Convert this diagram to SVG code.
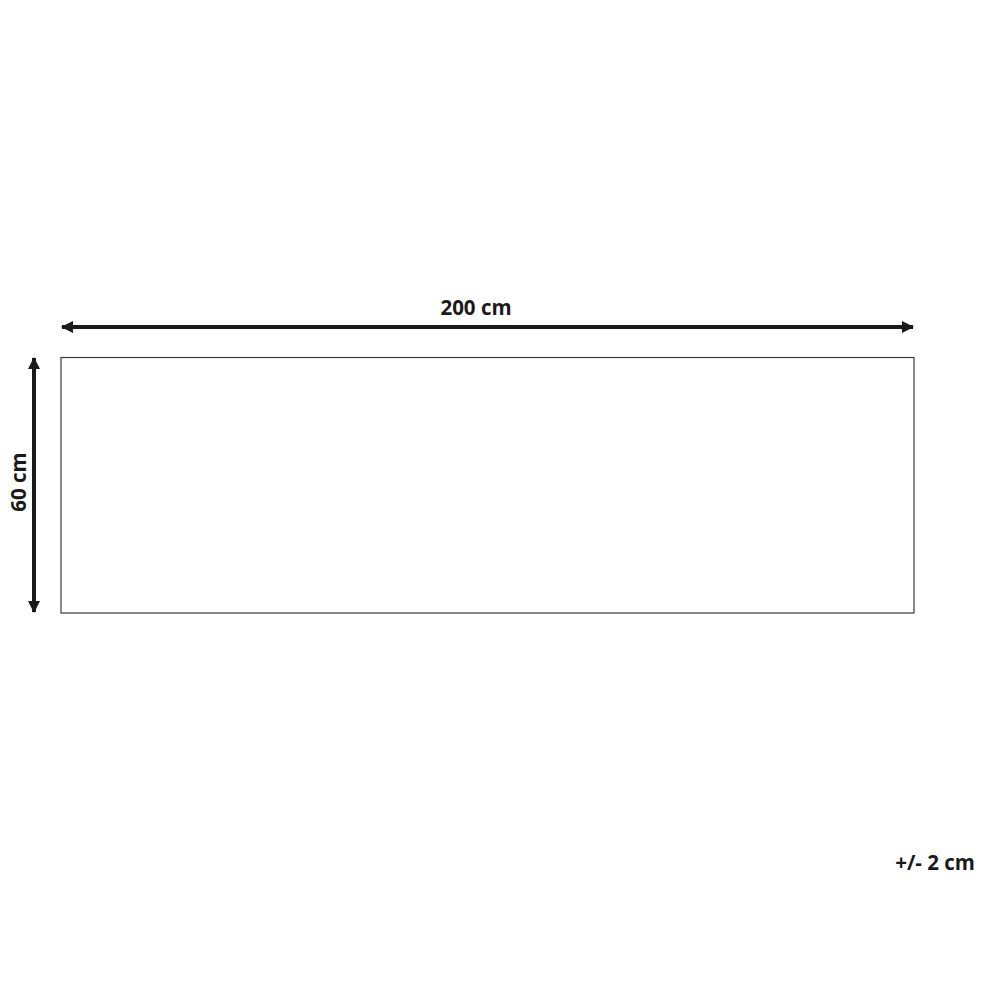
<svg xmlns="http://www.w3.org/2000/svg" width="1000" height="1000" viewBox="0 0 1000 1000">
<style>
.lbl{font-family:"Open Sans","Liberation Sans",sans-serif;font-weight:bold;font-size:20.5px;fill:#1a1a1a}
.dim{stroke:#1a1a1a;stroke-width:4;fill:none}
</style>
<defs>
<marker id="ah" viewBox="0 0 12 12" refX="11" refY="6" markerWidth="12" markerHeight="12" markerUnits="userSpaceOnUse" orient="auto-start-reverse">
<path d="M0,0 L12,6 L0,12 z" fill="#1a1a1a"/>
</marker>
</defs>
<rect width="1000" height="1000" fill="#fff"/>
<g id="rug">
<rect x="61" y="357.5" width="853" height="255.5" fill="none" stroke="#3a3a3a" stroke-width="1.2"/>
</g>
<g id="connectors">
<line class="dim" x1="62" y1="327" x2="913" y2="327" marker-start="url(#ah)" marker-end="url(#ah)"/>
<line class="dim" x1="34" y1="358" x2="34" y2="612" marker-start="url(#ah)" marker-end="url(#ah)"/>
</g>
<g id="labels">
<text class="lbl" x="476" y="315" text-anchor="middle">200 cm</text>
<text class="lbl" transform="translate(26,482) rotate(-90)" text-anchor="middle">60 cm</text>
<text class="lbl" x="975" y="870" text-anchor="end">+/- 2 cm</text>
</g>
</svg>
